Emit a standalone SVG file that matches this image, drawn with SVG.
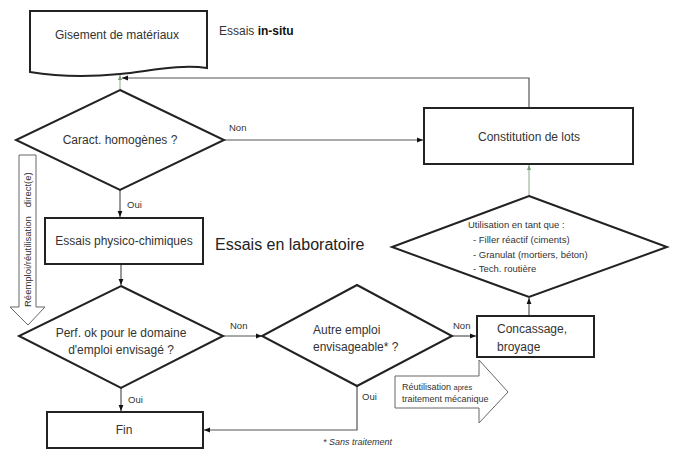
<svg xmlns="http://www.w3.org/2000/svg" width="673" height="450" viewBox="0 0 673 450">
<defs>
<marker id="ah" viewBox="0 0 10 10" refX="10" refY="5" markerWidth="5" markerHeight="5" orient="auto-start-reverse"><path d="M0,1 L10,5 L0,9 Z" fill="#111"/></marker>
<marker id="ahg" viewBox="0 0 10 10" refX="10" refY="5" markerWidth="5" markerHeight="5" orient="auto"><path d="M0,1 L10,5 L0,9 Z" fill="#7a9a7a"/></marker>
<style>
.box{fill:#fff;stroke:#222;stroke-width:2}
.dia{fill:#fff;stroke:#222;stroke-width:2}
.t{font-family:"Liberation Sans",Arial,sans-serif;fill:#333;font-size:12px}
.s{font-family:"Liberation Sans",Arial,sans-serif;fill:#333;font-size:9.5px}
.xs{font-family:"Liberation Sans",Arial,sans-serif;fill:#333;font-size:9px}
.big-t{font-family:"Liberation Sans",Arial,sans-serif;fill:#222;font-size:16px}
.c{stroke:#555;stroke-width:1.2;fill:none}
.g{stroke:#8aaa8a;stroke-width:1;fill:none}
.big{fill:#fff;stroke:#666;stroke-width:1}
</style>
</defs>
<rect width="673" height="450" fill="#fff"/>

<g id="connectors">
  <path class="c" d="M529,108 V78 H122" marker-end="url(#ah)"/>
  <path class="g" d="M120,89 V75" marker-end="url(#ahg)"/>
  <path class="c" d="M224,140 H423" marker-end="url(#ah)"/>
  <path class="c" d="M120,190 V217" marker-end="url(#ah)"/>
  <path class="c" d="M121,264 V285" marker-end="url(#ah)"/>
  <path class="c" d="M223,336 H262" marker-end="url(#ah)"/>
  <path class="c" d="M452,336 H476" marker-end="url(#ah)"/>
  <path class="c" d="M529,316 V298" marker-end="url(#ah)"/>
  <path class="g" d="M529,196 V165" marker-end="url(#ahg)"/>
  <path class="c" d="M121,388 V411" marker-end="url(#ah)"/>
  <path class="c" d="M357,386 V430 H204" marker-end="url(#ah)"/>
  <text class="s" x="229" y="131">Non</text>
  <text class="s" x="127" y="208">Oui</text>
  <text class="s" x="230" y="329">Non</text>
  <text class="s" x="453" y="329">Non</text>
  <text class="s" x="128" y="403">Oui</text>
  <text class="s" x="362" y="400">Oui</text>
</g>

<g id="gisement">
  <path class="box" d="M30,11 H207 V68 C180,64 150,71 120,74 C90,77 60,77 30,72 Z"/>
  <text class="t" x="117" y="39" text-anchor="middle">Gisement de matériaux</text>
</g>
<g id="label-insitu">
  <text class="t" x="219" y="35">Essais <tspan font-weight="bold" fill="#111">in-situ</tspan></text>
</g>

<g id="caract">
  <polygon class="dia" points="120,90 224,140 120,190 16,140"/>
  <text class="t" x="120" y="144" text-anchor="middle">Caract. homogènes ?</text>
</g>

<g id="constitution">
  <rect class="box" x="424" y="108" width="209" height="56"/>
  <text class="t" x="529" y="141" text-anchor="middle">Constitution de lots</text>
</g>

<g id="physico">
  <rect class="box" x="45" y="218" width="158" height="46"/>
  <text class="t" x="124" y="245" text-anchor="middle">Essais physico-chimiques</text>
</g>
<g id="label-labo">
  <text class="big-t" x="215" y="250">Essais en laboratoire</text>
</g>

<g id="reemploi">
  <path class="big" d="M19,155 H36 V307 H45 L28,325 L10,307 H19 Z"/>
  <text class="s" transform="translate(31,307) rotate(-90)">Réemploi/réutilisation<tspan dx="9">direct(e)</tspan></text>
</g>

<g id="perf">
  <polygon class="dia" points="121,286 223,336 121,388 19,336"/>
  <text class="t" x="121" y="337" text-anchor="middle">Perf. ok pour le domaine</text>
  <text class="t" x="121" y="354" text-anchor="middle">d'emploi envisagé ?</text>
</g>

<g id="autre">
  <polygon class="dia" points="357,285 452,336 357,386 262,336"/>
  <text class="t" x="313" y="334">Autre emploi</text>
  <text class="t" x="313" y="351">envisageable* ?</text>
</g>

<g id="concassage">
  <rect class="box" x="477" y="316" width="117" height="41"/>
  <text class="t" x="497" y="333">Concassage,</text>
  <text class="t" x="497" y="351">broyage</text>
</g>

<g id="utilisation">
  <polygon class="dia" points="529,196 667,247 529,297 392,247"/>
  <text class="s" x="468" y="228">Utilisation en tant que :</text>
  <text class="s" x="473" y="243">-  Filler réactif (ciments)</text>
  <text class="s" x="473" y="258">-  Granulat (mortiers, béton)</text>
  <text class="s" x="473" y="272">-  Tech. routière</text>
</g>

<g id="traitement">
  <path class="big" d="M395,376 H479 V360 L508,392 L479,423 V408 H395 Z"/>
  <text class="xs" x="402" y="390">Réutilisation <tspan font-size="7.5">après</tspan></text>
  <text class="xs" x="402" y="402">traitement mécanique</text>
</g>

<g id="fin">
  <rect class="box" x="47" y="412" width="156" height="36"/>
  <text class="t" x="124" y="434" text-anchor="middle">Fin</text>
</g>

<g id="note">
  <text class="xs" font-style="italic" x="323" y="445">* Sans traitement</text>
</g>
</svg>
